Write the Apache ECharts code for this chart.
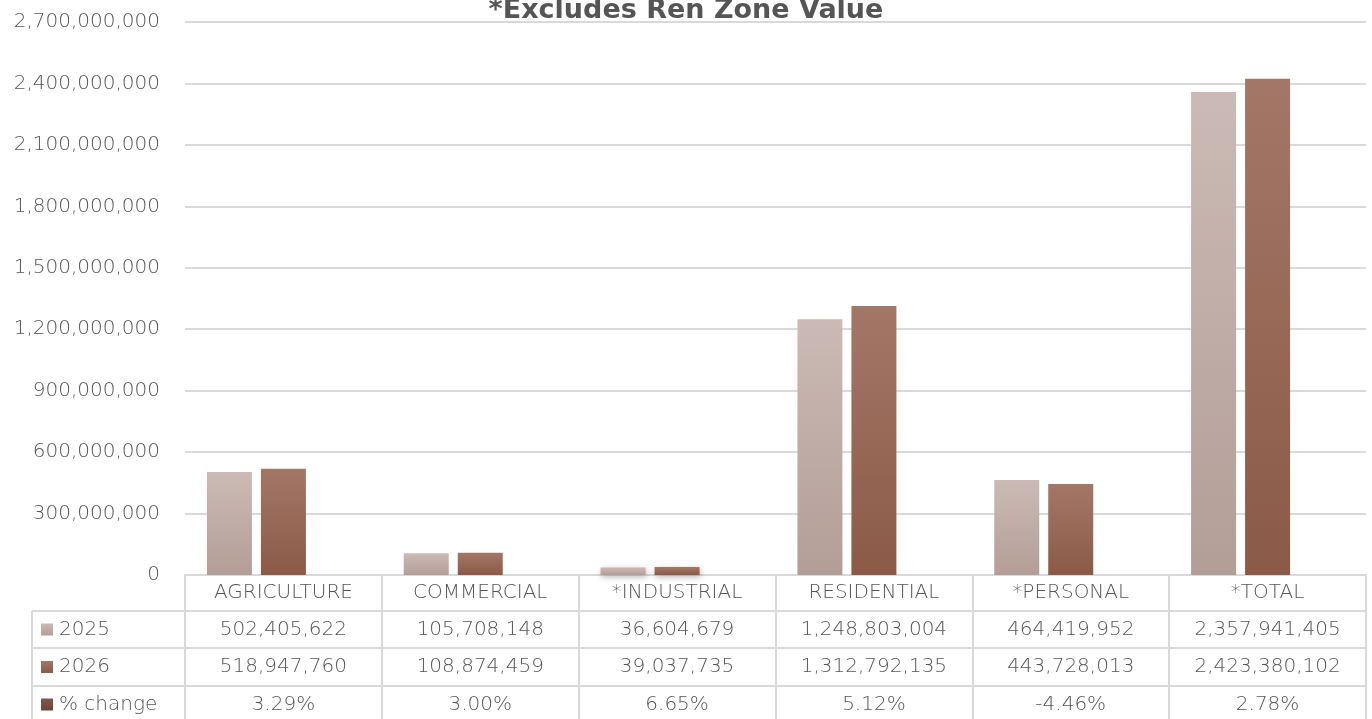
<!DOCTYPE html>
<html>
<head>
<meta charset="utf-8">
<script src="https://cdn.jsdelivr.net/npm/echarts@6/dist/echarts.min.js"></script>
<style>
  html, body { margin: 0; padding: 0; background: #fff; }
  #chart { width: 1372px; height: 719px; }
</style>
</head>
<body>
<div id="chart"></div>
<script>
// Assessed values by class, 2025 vs 2026
const categories = ['AGRICULTURE', 'COMMERCIAL', '*INDUSTRIAL', 'RESIDENTIAL', '*PERSONAL', '*TOTAL'];
const values2025 = [502405622, 105708148, 36604679, 1248803004, 464419952, 2357941405];
const values2026 = [518947760, 108874459, 39037735, 1312792135, 443728013, 2423380102];
const pctChange = [3.29, 3.00, 6.65, 5.12, -4.46, 2.78];
const yTicks = { min: 0, max: 2700000000, step: 300000000 };
const titleText = '*Excludes Ren Zone Value';

const FAMILY = '"DejaVu Sans", sans-serif';
const FONT_SIZE = 20;
const TEXT = '#555555';
const LINE = '#d9d9d9';
const fmt = v => v.toLocaleString('en-US');
const fmtPct = v => v.toFixed(2) + '%';

const grad = (top, bottom) => new echarts.graphic.LinearGradient(0, 0, 0, 1, [
  { offset: 0, color: top }, { offset: 1, color: bottom }
]);
const key2025 = grad('#cbbab5', '#b39e97');
const key2026 = grad('#a37767', '#8b5a47');
const keyPct = grad('#7f594b', '#6a4437');

const chart = echarts.init(document.getElementById('chart'), null, { renderer: 'canvas' });

const shadow = { shadowBlur: 6, shadowOffsetX: 1, shadowOffsetY: 2, shadowColor: 'rgba(0,0,0,0.28)' };
const labelFont = { color: TEXT, fontSize: FONT_SIZE, fontFamily: FAMILY, fontWeight: 200 };

chart.setOption({
  animation: false,
  textStyle: { fontFamily: FAMILY },
  grid: { left: 185, right: 6, top: 22, bottom: 144, containLabel: false },
  xAxis: {
    type: 'category',
    data: categories,
    axisLine: { show: true, lineStyle: { color: LINE, width: 2 } },
    axisTick: { show: true, length: 150, lineStyle: { color: LINE, width: 2 } },
    axisLabel: Object.assign({ show: true, margin: 8, verticalAlign: 'top' }, labelFont)
  },
  yAxis: {
    type: 'value',
    min: yTicks.min, max: yTicks.max, interval: yTicks.step,
    axisLine: { show: false },
    axisTick: { show: false },
    splitLine: { lineStyle: { color: LINE, width: 2 } },
    axisLabel: Object.assign({ margin: 25, formatter: v => fmt(v) }, labelFont)
  },
  series: [
    {
      name: '2025', type: 'bar', data: values2025,
      barWidth: 45, barGap: '20%',
      itemStyle: Object.assign({ color: key2025 }, shadow)
    },
    {
      name: '2026', type: 'bar', data: values2026,
      barWidth: 45, barGap: '20%',
      itemStyle: Object.assign({ color: key2026 }, shadow)
    },
    {
      name: '% change', type: 'bar', data: pctChange,
      barWidth: 45, barGap: '20%',
      itemStyle: { color: keyPct }
    }
  ]
});

// Data table beneath the plot, aligned with the category bands
const rows = [
  { label: '2025', key: key2025, cells: values2025.map(fmt) },
  { label: '2026', key: key2026, cells: values2026.map(fmt) },
  { label: '% change', key: keyPct, cells: pctChange.map(fmtPct) }
];
const rowLines = [611, 648, 686, 723];
const tableLeft = 32, tableRight = 1366;
const cellFont = '200 ' + FONT_SIZE + 'px ' + FAMILY;
const graphics = [];

graphics.push({
  type: 'text', x: 686, y: 11,
  style: { text: titleText, fill: TEXT, font: 'bold 27px ' + FAMILY, textAlign: 'center', textVerticalAlign: 'middle' }
});

rowLines.forEach(y => {
  graphics.push({
    type: 'line', shape: { x1: tableLeft, y1: y, x2: tableRight, y2: y },
    style: { stroke: LINE, lineWidth: 2 }, silent: true
  });
});
graphics.push({
  type: 'line', shape: { x1: tableLeft, y1: rowLines[0], x2: tableLeft, y2: 723 },
  style: { stroke: LINE, lineWidth: 2 }, silent: true
});

rows.forEach((row, r) => {
  const yc = (rowLines[r] + rowLines[r + 1]) / 2;
  graphics.push({
    type: 'rect', shape: { x: 41, y: yc - 6, width: 12, height: 12 },
    style: { fill: row.key }, silent: true
  });
  graphics.push({
    type: 'text', x: 59, y: yc,
    style: { text: row.label, fill: TEXT, font: cellFont, textAlign: 'left', textVerticalAlign: 'middle' }
  });
  row.cells.forEach((cell, c) => {
    const x = chart.convertToPixel({ xAxisIndex: 0 }, categories[c]);
    graphics.push({
      type: 'text', x: x, y: yc,
      style: { text: cell, fill: TEXT, font: cellFont, textAlign: 'center', textVerticalAlign: 'middle' }
    });
  });
});

chart.setOption({ graphic: graphics });
</script>
</body>
</html>
